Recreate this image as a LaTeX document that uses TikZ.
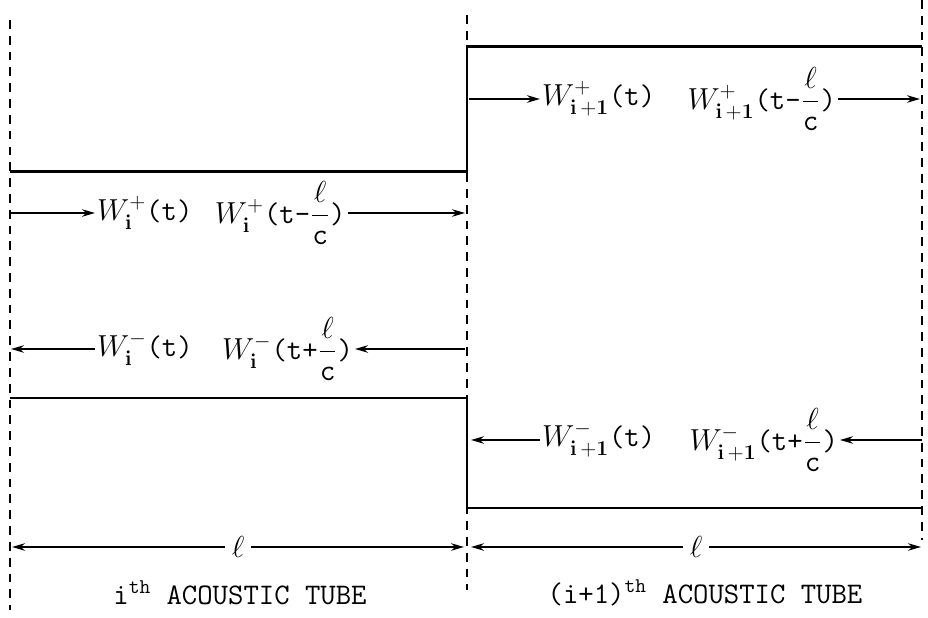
\documentclass[tikz,border=0pt]{standalone}
\usepackage{amsmath}
\usetikzlibrary{arrows.meta,positioning}

\begin{document}
\begin{tikzpicture}[>={Stealth[length=2.6mm,width=1.5mm]},
  every node/.style={inner sep=1pt,font=\fontsize{17}{20}\selectfont\ttfamily},
  wall/.style={line width=1.7pt},
  guide/.style={dash pattern=on 5pt off 4pt,line width=0.8pt},
  flow/.style={->,line width=0.9pt}]
  \useasboundingbox (0,0) rectangle (18.56,12.36);

  % tube boundaries
  \draw[guide] (0.2,11.96) -- (0.2,0.16);
  \draw[guide] (9.34,12.06) -- (9.34,0.56);
  \draw[guide] (18.44,12.36) -- (18.44,1.56);
  \draw[wall] (0.2,8.92) -- (9.34,8.92) -- (9.34,11.42) -- (18.44,11.42);
  \draw[wall] (0.2,4.40) -- (9.34,4.40) -- (9.34,2.20) -- (18.44,2.20);

  % waves in tube i
  \node[anchor=west] (wpi)  at (1.9,8.1)  {$W^{+}_{\mathbf{i}}$(t)};
  \node[anchor=east] (wpil) at (6.95,8.1) {$W^{+}_{\mathbf{i}}$(t-$\dfrac{\ell}{\mathtt{c}}$)};
  \node[anchor=west] (wmi)  at (1.9,5.38) {$W^{-}_{\mathbf{i}}$(t)};
  \node[anchor=east] (wmil) at (7.1,5.38) {$W^{-}_{\mathbf{i}}$(t+$\dfrac{\ell}{\mathtt{c}}$)};
  \coordinate (a1) at (0.22,8.1);
  \coordinate (a2) at (9.3,8.1);
  \coordinate (b1) at (0.22,5.38);
  \coordinate (b2) at (9.3,5.38);
  \draw[flow] (a1) -- (wpi);
  \draw[flow] (wpil) -- (a2);
  \draw[flow] (wmi) -- (b1);
  \draw[flow] (b2) -- (wmil);

  % waves in tube i+1
  \node[anchor=west] (wpj)  at (10.8,10.38) {$W^{+}_{\mathbf{i\,+1}}$(t)};
  \node[anchor=east] (wpjl) at (16.76,10.38) {$W^{+}_{\mathbf{i\,+1}}$(t-$\dfrac{\ell}{\mathtt{c}}$)};
  \node[anchor=west] (wmj)  at (10.8,3.56) {$W^{-}_{\mathbf{i\,+1}}$(t)};
  \node[anchor=east] (wmjl) at (16.8,3.56) {$W^{-}_{\mathbf{i\,+1}}$(t+$\dfrac{\ell}{\mathtt{c}}$)};
  \coordinate (c1) at (9.38,10.38);
  \coordinate (c2) at (18.4,10.38);
  \coordinate (d1) at (9.42,3.56);
  \coordinate (d2) at (18.44,3.56);
  \draw[flow] (c1) -- (wpj);
  \draw[flow] (wpjl) -- (c2);
  \draw[flow] (wmj) -- (d1);
  \draw[flow] (d2) -- (wmjl);

  % lengths
  \coordinate (l1) at (0.24,1.42);
  \coordinate (l2) at (9.28,1.42);
  \coordinate (l3) at (9.42,1.42);
  \coordinate (l4) at (18.42,1.42);
  \draw[flow,<->] (l1) -- node[fill=white,inner sep=4pt] (len1) {$\ell$} (l2);
  \draw[flow,<->] (l3) -- node[fill=white,inner sep=4pt] (len2) {$\ell$} (l4);

  \node (tubei) at (4.8,0.5)  {i\textsuperscript{th} ACOUSTIC TUBE};
  \node (tubej) at (14.1,0.5) {(i+1)\textsuperscript{th} ACOUSTIC TUBE};
\end{tikzpicture}
\end{document}
